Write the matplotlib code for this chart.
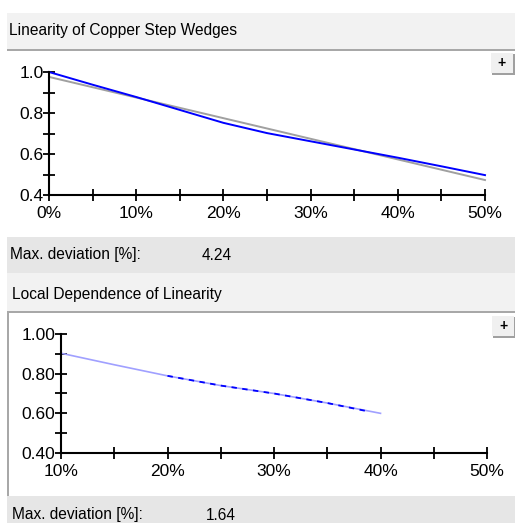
import numpy as np
from matplotlib import pyplot as plt
from matplotlib.patches import Rectangle

# Linearity of copper step wedges (top chart)
wedge_x = [0, 5, 10, 15, 20, 25, 30, 35, 40, 45, 50]
wedge_measured = [1.0, 0.938, 0.878, 0.815, 0.752, 0.702, 0.662, 0.622, 0.582, 0.54, 0.497]
wedge_fit_x = [0, 50]
wedge_fit = [0.976, 0.473]
max_dev_1 = "4.24"

# Local dependence of linearity (bottom chart)
local_x = [10, 15, 20, 25, 30, 35, 40]
local_y = [0.903, 0.845, 0.789, 0.740, 0.70, 0.652, 0.60]
local_dash_x = [20, 25, 30, 35, 39]
local_dash_y = [0.789, 0.740, 0.70, 0.652, 0.608]
max_dev_2 = "1.64"

W, H = 515, 523
fig = plt.figure(figsize=(W / 100, H / 100), dpi=100)
fig.patch.set_facecolor('white')
plt.rcParams['font.family'] = ['Liberation Sans', 'DejaVu Sans']


def box(x, y, w, h, color, **kw):
    # rectangle in pixel coords, origin at top left
    fig.add_artist(Rectangle((x / W, 1 - (y + h) / H), w / W, h / H,
                             transform=fig.transFigure, facecolor=color,
                             edgecolor='none', **kw))


def label(x, y, s, size=11.2):
    fig.text(x / W, 1 - y / H, s, fontsize=size, va='center', ha='left')


def plus_button(x, y):
    box(x + 1, y + 1, 23, 21, '#a0a0a0')
    box(x, y, 22, 20, '#f0f0f0', linewidth=0.8)
    fig.text((x + 11) / W, 1 - (y + 10) / H, '+', fontsize=10, fontweight='bold',
             ha='center', va='center')


def add_axes(left, top, right, bottom):
    return fig.add_axes([left / W, 1 - bottom / H, (right - left) / W, (bottom - top) / H])


# panel backgrounds
box(7, 13, 508, 37, '#f2f2f2')
box(7, 49, 508, 2, '#a8a8a8')
box(7, 237, 508, 36, '#e6e6e6')
box(7, 273, 508, 39, '#f2f2f2')
box(7, 311, 508, 2, '#a8a8a8')
box(7, 312, 2, 184, '#a8a8a8')
box(7, 496, 508, 27, '#e6e6e6')

label(9, 31, 'Linearity of Copper Step Wedges')
label(10, 255, 'Max. deviation [%]:')
label(202, 255, max_dev_1)
label(12, 295, 'Local Dependence of Linearity')
label(12, 514, 'Max. deviation [%]:')
label(206, 516, max_dev_2)

plus_button(491, 53)
plus_button(492, 316)


def style(ax, xlim, ylim, xticks, yticks, yminor, yfmt):
    ax.set_xlim(xlim)
    ax.set_ylim(ylim)
    ax.patch.set_alpha(0)
    for s in ['top', 'right']:
        ax.spines[s].set_visible(False)
    for s in ['left', 'bottom']:
        ax.spines[s].set_linewidth(1.5)
    ax.set_xticks(xticks)
    ax.set_xticklabels([f'{t}%' for t in xticks])
    ax.set_yticks(yticks)
    ax.set_yticklabels([yfmt.format(t) for t in yticks])
    ax.set_yticks(yminor, minor=True)
    ax.tick_params(which='both', direction='inout', length=8, width=1.3, labelsize=12.5, pad=0)
    ax.tick_params(axis='x', pad=4)


ax1 = add_axes(49, 72, 485, 195)
ax1.plot(wedge_fit_x, wedge_fit, color='#a0a0a0', linewidth=1.4, clip_on=False)
ax1.plot(wedge_x, wedge_measured, color='#0000ff', linewidth=1.4, clip_on=False)
style(ax1, (0, 50), (0.4, 1.0), [0, 10, 20, 30, 40, 50], [0.4, 0.6, 0.8, 1.0],
      [0.5, 0.7, 0.9], '{:.1f}')
ax1.set_xticks([5, 15, 25, 35, 45], minor=True)

ax2 = add_axes(61, 334, 487, 453)
ax2.plot(local_x, local_y, color='#a0a0ff', linewidth=1.2, clip_on=False)
ax2.plot(local_dash_x, local_dash_y, color='#0000ff', linewidth=1.3,
         linestyle=(0, (3, 3)), clip_on=False)
style(ax2, (10, 50), (0.4, 1.0), [10, 20, 30, 40, 50], [0.4, 0.6, 0.8, 1.0],
      [0.5, 0.7, 0.9], '{:.2f}')
ax2.set_xticks([15, 25, 35, 45], minor=True)

fig.savefig('out.png', dpi=100)
